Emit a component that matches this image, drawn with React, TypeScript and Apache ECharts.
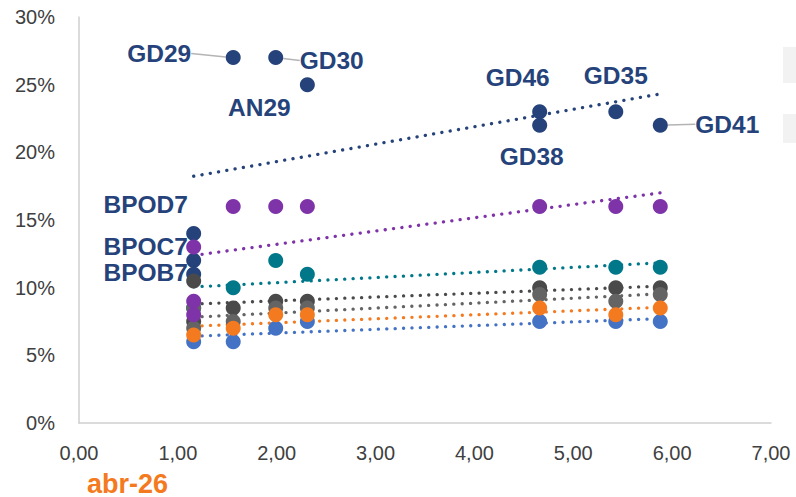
import React, { useEffect, useRef } from "react";
import * as echarts from "echarts";

// Duration (x) and yield in % (y) for each group of bonds
const navyNames = ["GD29", "GD30", "AN29", "GD46", "GD38", "GD35", "GD41", "BPOD7", "BPOC7", "BPOB7"];
const navyDuration = [1.56, 1.99, 2.31, 4.66, 4.66, 5.43, 5.88, 1.16, 1.16, 1.16];
const navyYield = [27, 27, 25, 23, 22, 23, 22, 14, 12, 11];

const purpleDuration = [1.16, 1.16, 1.16, 1.56, 1.99, 2.31, 4.66, 5.43, 5.88];
const purpleYield = [13, 9, 8, 16, 16, 16, 16, 16, 16];

const tealDuration = [1.16, 1.56, 1.99, 2.31, 4.66, 5.43, 5.88];
const tealYield = [8.5, 10, 12, 11, 11.5, 11.5, 11.5];

const darkGreyDuration = [1.16, 1.16, 1.56, 1.99, 2.31, 4.66, 5.43, 5.88];
const darkGreyYield = [10.5, 7.5, 8.5, 9, 9, 10, 10, 10];

const greyDuration = [1.16, 1.16, 1.56, 1.99, 2.31, 4.66, 5.43, 5.88];
const greyYield = [8.5, 7, 7.5, 8.5, 8.5, 9.5, 9, 9.5];

const orangeDuration = [1.16, 1.56, 1.99, 2.31, 4.66, 5.43, 5.88];
const orangeYield = [6.5, 7, 8, 8, 8.5, 8, 8.5];

const blueDuration = [1.16, 1.56, 1.99, 2.31, 4.66, 5.43, 5.88];
const blueYield = [6, 6, 7, 7.5, 7.5, 7.5, 7.5];

const yTicks = [0, 5, 10, 15, 20, 25, 30];
const xTicks = [0, 1, 2, 3, 4, 5, 6, 7];
const dateLabel = "abr-26";

// label offsets (dx, dy from the marker centre) and which labels get a leader line
const labelOffsets: Record<string, [number, number]> = {
  GD29: [-74, -4],
  GD30: [56, 3],
  AN29: [-48, 23],
  GD46: [-22, -34],
  GD35: [0, -36],
  GD38: [-8, 31],
  GD41: [67, -1],
  BPOD7: [-48, -29],
  BPOC7: [-48, -14.5],
  BPOB7: [-48, -2],
};
const leaderLabels = ["GD29", "GD30", "GD41"];

const FONT = "'Liberation Sans', Arial, sans-serif";

// least-squares linear trend across the x range of a group
function trend(xs: number[], ys: number[]): number[][] {
  const n = xs.length;
  const mx = xs.reduce((a, b) => a + b, 0) / n;
  const my = ys.reduce((a, b) => a + b, 0) / n;
  let sxy = 0;
  let sxx = 0;
  for (let i = 0; i < n; i++) {
    sxy += (xs[i] - mx) * (ys[i] - my);
    sxx += (xs[i] - mx) * (xs[i] - mx);
  }
  const slope = sxy / sxx;
  const x0 = Math.min(...xs);
  const x1 = Math.max(...xs);
  return [
    [x0, my + slope * (x0 - mx)],
    [x1, my + slope * (x1 - mx)],
  ];
}

const groups = [
  { key: "navy", color: "#25437A", xs: navyDuration, ys: navyYield },
  { key: "teal", color: "#00788A", xs: tealDuration, ys: tealYield },
  { key: "darkGrey", color: "#4A4A4A", xs: darkGreyDuration, ys: darkGreyYield },
  { key: "grey", color: "#646464", xs: greyDuration, ys: greyYield },
  { key: "blue", color: "#4472C4", xs: blueDuration, ys: blueYield },
  { key: "orange", color: "#F47A20", xs: orangeDuration, ys: orangeYield },
  { key: "purple", color: "#7F33A8", xs: purpleDuration, ys: purpleYield },
];

export default function App() {
  const ref = useRef<HTMLDivElement>(null);

  useEffect(() => {
    if (!ref.current) return;
    const chart = echarts.init(ref.current, undefined, { renderer: "svg" });

    const trendSeries = groups.map((g) => ({
      type: "line",
      name: g.key + "-trend",
      data: trend(g.xs, g.ys),
      symbol: "none",
      silent: true,
      z: 1,
      lineStyle: { color: g.color, width: 3.3, type: [0.1, 8.3], cap: "round" },
    }));

    const pointSeries = groups.map((g) => {
      const isNavy = g.key === "navy";
      return {
        type: "scatter",
        name: g.key,
        z: 2,
        symbolSize: 15,
        itemStyle: { color: g.color, opacity: 1 },
        data: g.xs.map((x, i) => {
          const item: any = { value: [x, g.ys[i]] };
          if (isNavy) {
            item.name = navyNames[i];
            if (leaderLabels.includes(navyNames[i])) {
              item.labelLine = { show: true };
            }
          }
          return item;
        }),
        label: isNavy
          ? {
              show: true,
              position: "inside",
              formatter: (p: any) => p.name,
              color: "#25437A",
              fontFamily: FONT,
              fontWeight: "bold",
              fontSize: 24.5,
              lineHeight: 19,
            }
          : { show: false },
        labelLayout: isNavy
          ? (p: any) => {
              const off = labelOffsets[navyNames[p.dataIndex]] || [0, 0];
              return { dx: off[0], dy: off[1] };
            }
          : undefined,
        labelLine: isNavy
          ? { show: false, lineStyle: { color: "#B4B4B4", width: 1.5 }, smooth: 0.2 }
          : undefined,
      };
    });

    chart.setOption({
      animation: false,
      grid: { left: 79, right: 25, top: 17, bottom: 74, containLabel: false },
      xAxis: {
        type: "value",
        min: xTicks[0],
        max: xTicks[xTicks.length - 1],
        interval: 1,
        axisLine: { show: true, lineStyle: { color: "#CFCFCF", width: 1.5 } },
        axisTick: { show: false },
        splitLine: { show: false },
        axisLabel: {
          color: "#404040",
          fontFamily: FONT,
          fontSize: 20,
          margin: 20,
          formatter: (v: number) => v.toFixed(2).replace(".", ","),
        },
      },
      yAxis: {
        type: "value",
        min: yTicks[0],
        max: yTicks[yTicks.length - 1],
        interval: 5,
        axisLine: { show: true, lineStyle: { color: "#CFCFCF", width: 1.5 } },
        axisTick: { show: false },
        splitLine: { show: false },
        axisLabel: {
          color: "#404040",
          fontFamily: FONT,
          fontSize: 20,
          margin: 24,
          formatter: (v: number) => v + "%",
        },
      },
      graphic: [
        {
          type: "text",
          left: 87,
          top: 470,
          style: {
            text: dateLabel,
            fill: "#F47A20",
            font: "bold 27px " + FONT,
          },
        },
        { type: "rect", shape: { x: 783, y: 47, width: 13, height: 36 }, style: { fill: "#F2F2F2" } },
        { type: "rect", shape: { x: 783, y: 114, width: 13, height: 29 }, style: { fill: "#F2F2F2" } },
      ],
      series: [...trendSeries, ...pointSeries],
    });

    return () => chart.dispose();
  }, []);

  return (
    <div
      ref={ref}
      style={{ position: "fixed", left: 0, top: 0, width: 796, height: 497, background: "#fff" }}
    />
  );
}
